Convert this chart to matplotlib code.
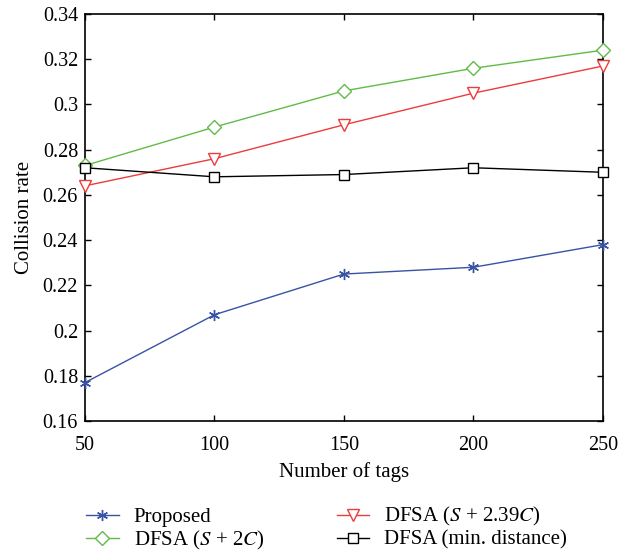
import matplotlib

matplotlib.use("Agg")
import matplotlib.pyplot as plt  # noqa: E402
from matplotlib.ticker import FixedLocator  # noqa: E402

plt.rcParams["font.family"] = ["Liberation Serif", "DejaVu Serif"]
plt.rcParams["mathtext.fontset"] = "stix"

# Data.
tags = [50, 100, 150, 200, 250]
proposed = [0.177, 0.207, 0.225, 0.228, 0.238]
dfsa_2c = [0.273, 0.290, 0.306, 0.316, 0.324]
dfsa_239c = [0.264, 0.276, 0.291, 0.305, 0.317]
dfsa_min = [0.272, 0.268, 0.269, 0.272, 0.270]
yticks = [0.16, 0.18, 0.2, 0.22, 0.24, 0.26, 0.28, 0.3, 0.32, 0.34]

fig = plt.figure(figsize=(6.37, 5.51), dpi=100)
ax = fig.add_axes([0.1334, 0.2359, 0.8132, 0.7387])

style = dict(linewidth=1.0, markeredgewidth=1.0, clip_on=False, zorder=3)
h1, = ax.plot(tags, proposed, color="#3953a4", marker=(6, 2, 0),
              markersize=8, label="Proposed", **style)
h2, = ax.plot(tags, dfsa_2c, color="#62bb46", marker="D", markersize=7,
              markerfacecolor="white", label="DFSA ($S$ + 2$C$)", **style)
h3, = ax.plot(tags, dfsa_239c, color="#ee3b3b", marker="v", markersize=9,
              markerfacecolor="white", label="DFSA ($S$ + 2.39$C$)", **style)
h4, = ax.plot(tags, dfsa_min, color="black", marker="s", markersize=6.5,
              markerfacecolor="white", label="DFSA (min. distance)", **style)

ax.set_xlim(50, 250)
ax.set_ylim(0.16, 0.34)
ax.set_xticks(tags)
ax.yaxis.set_major_locator(FixedLocator(yticks))
ax.set_yticklabels([f"{v:g}" for v in yticks])
ax.tick_params(direction="in", top=True, right=True, labelsize=14.5,
               length=4, width=1.0, pad=5)
ax.tick_params(axis="x", pad=11)
for spine in ax.spines.values():
    spine.set_linewidth(1.2)

ax.set_xlabel("Number of tags", fontsize=15, labelpad=5)
ax.set_ylabel("Collision rate", fontsize=15, labelpad=6)

fig.legend(
    handles=[h1, h2, h3, h4],
    ncol=2,
    loc="upper left",
    bbox_to_anchor=(0.106, 0.117),
    frameon=False,
    fontsize=15,
    handlelength=1.55,
    columnspacing=3.5,
    labelspacing=0.1,
    handletextpad=0.72,
)

fig.savefig("out.png", dpi=100)
plt.close(fig)
